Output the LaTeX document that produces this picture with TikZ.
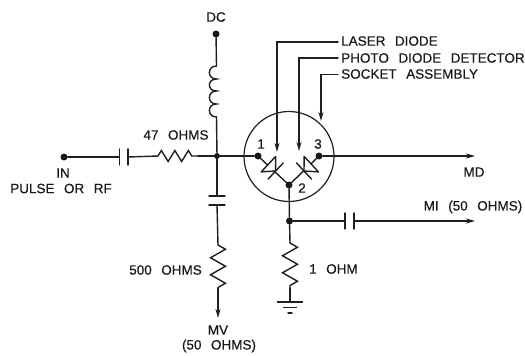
\documentclass[tikz,border=0pt]{standalone}
\usepackage{fontspec}
\setmainfont{Liberation Sans}[FakeBold=0.5]
\newcommand{\wgap}{\hspace{9.5pt}}
\usetikzlibrary{decorations.pathmorphing,arrows.meta,calc}
\tikzset{
  wire/.style={line width=1.4pt,line cap=round,color=black!88},
  lead/.style={wire,-{Stealth[length=9pt,width=5pt]}},
  dotn/.style={circle,fill=black!90,inner sep=0pt,minimum size=7pt},
  lbl/.style={font=\fontsize{13.5}{14}\selectfont,inner sep=0pt,text=black!90},
  lblleft/.style={lbl,anchor=west},
  res/.style={decorate,decoration={zigzag,segment length=13.5pt,amplitude=5.5pt}},
  resv/.style={decorate,decoration={zigzag,segment length=17pt,amplitude=7.5pt}},
}
\begin{document}
\begin{tikzpicture}[x=1pt,y=-1pt]
\useasboundingbox (0,0) rectangle (525,356);
% named points
\node[dotn] (in) at (64,157) {};
\node[dotn] (dc) at (216,34) {};
\node[dotn,minimum size=6pt] (j) at (217,156) {};
\node[dotn] (p1) at (258,156) {};
\node[dotn] (p3) at (319,156) {};
\node[dotn] (p2) at (289,185) {};
\node[dotn] (j2) at (289.5,221) {};
\coordinate (c1a) at (119.5,157);
\coordinate (c1b) at (128,157);
\coordinate (r1a) at (158,156);
\coordinate (r1b) at (198,156);
\coordinate (l1a) at (216.5,66);
\coordinate (l1b) at (216.5,117);
\coordinate (c2a) at (217,196);
\coordinate (c2b) at (217,205);
\coordinate (r2a) at (218,245);
\coordinate (r2b) at (218,288);
\coordinate (mv) at (218,318);
\coordinate (md) at (475,156);
\coordinate (c3a) at (345,221);
\coordinate (c3b) at (354,221);
\coordinate (mi) at (475,221);
\coordinate (r3a) at (290,243);
\coordinate (r3b) at (290,288);
\coordinate (g) at (290,302);
% socket
\node[circle,draw=black!88,line width=1.2pt,minimum size=90pt,inner sep=0pt] (sock) at (289,156.5) {};
% input branch
\draw[wire] (in) -- (c1a);
\draw[wire] ($(c1a)+(0,-8)$) -- ($(c1a)+(0,8)$);
\draw[wire] ($(c1b)+(0,-8)$) -- ($(c1b)+(0,8)$);
\draw[wire] (c1b) -- (r1a);
\draw[wire,res] (r1a) -- (r1b);
\draw[wire] (r1b) -- (j);
% DC and inductor
\draw[wire] (dc) -- (l1a);
\draw[wire] (l1a)
  .. controls (207,66) and (207,79) .. (216.5,79)
  .. controls (207,79) and (207,91) .. (216.5,91)
  .. controls (207,91) and (207,104) .. (216.5,104)
  .. controls (207,104) and (207,117) .. (l1b);
\draw[wire] (l1b) -- (j);
% shunt branch
\draw[wire] (j) -- (c2a);
\draw[wire] ($(c2a)+(-8,0)$) -- ($(c2a)+(8,0)$);
\draw[wire] ($(c2b)+(-8,0)$) -- ($(c2b)+(8,0)$);
\draw[wire] (c2b) -- (r2a);
\draw[wire,resv] (r2a) -- (r2b);
\draw[lead] (r2b) -- (mv);
% to socket
\draw[wire] (j) -- (p1);
\draw[lead] (p3) -- (md);
% diodes
\draw[wire] (p1) -- (p2) -- (p3);
\begin{scope}[shift={(275.7,171)},rotate=-43]
 \draw[wire,line join=round,fill=white] (-10,-10.5) -- (-10,10.5) -- (0,0) -- cycle;
 \draw[wire] (0,-11) -- (0,11);
\end{scope}
\begin{scope}[shift={(304,171)},rotate=-137]
 \draw[wire,line join=round,fill=white] (-10,-10.5) -- (-10,10.5) -- (0,0) -- cycle;
 \draw[wire] (0,-11) -- (0,11);
\end{scope}
% bottom
\draw[wire] (p2) -- (j2);
\draw[wire] (j2) -- (c3a);
\draw[wire] ($(c3a)+(0,-8)$) -- ($(c3a)+(0,8)$);
\draw[wire] ($(c3b)+(0,-8)$) -- ($(c3b)+(0,8)$);
\draw[lead] (c3b) -- (mi);
\draw[wire] (j2) -- (r3a);
\draw[wire,resv] (r3a) -- (r3b);
\draw[wire] (r3b) -- (g);
\draw[wire] ($(g)+(-12.5,0)$) -- ($(g)+(12.5,0)$);
\draw[wire] ($(g)+(-6.5,5.5)$) -- ($(g)+(6.5,5.5)$);
\draw[wire] ($(g)+(-2,11)$) -- ($(g)+(2,11)$);
% labels
\node[lbl] (tdc) at (216,17) {DC};
\node[lbl] (t47) at (176,135) {47\wgap OHMS};
\node[lbl] (tin) at (63,173) {IN};
\node[lbl] (tpulse) at (61,188.5) {PULSE\wgap OR\wgap RF};
\node[lblleft] (tld) at (341,41) {LASER\wgap DIODE};
\node[lblleft] (tpd) at (341,58) {PHOTO\wgap DIODE\wgap DETECTOR};
\node[lblleft] (tsa) at (341,74) {SOCKET\wgap ASSEMBLY};
\node[lbl] (tmd) at (474,172) {MD};
\node[lbl] (tmi) at (473,207) {MI\wgap (50\wgap OHMS)};
\node[lbl] (t1) at (261,144) {1};
\node[lbl] (t3) at (318,144) {3};
\node[lbl] (t2) at (302,188) {2};
\node[lbl,anchor=east] (t500) at (202,270) {500\wgap OHMS};
\node[lbl,anchor=west] (t1o) at (309,269) {1\wgap OHM};
\node[lbl] (tmv) at (218,330) {MV};
\node[lbl] (t50) at (219,346) {(50\wgap OHMS)};
% leaders
\coordinate (a1) at (277,42);
\coordinate (a2) at (299,58);
\coordinate (a3) at (321,74.5);
\draw[lead] (338,42) -- (a1) -- (277,152);
\draw[lead] (338,58) -- (a2) -- (299,151);
\draw[lead] (338,74.5) -- (a3) -- (321,121);
\end{tikzpicture}
\end{document}
